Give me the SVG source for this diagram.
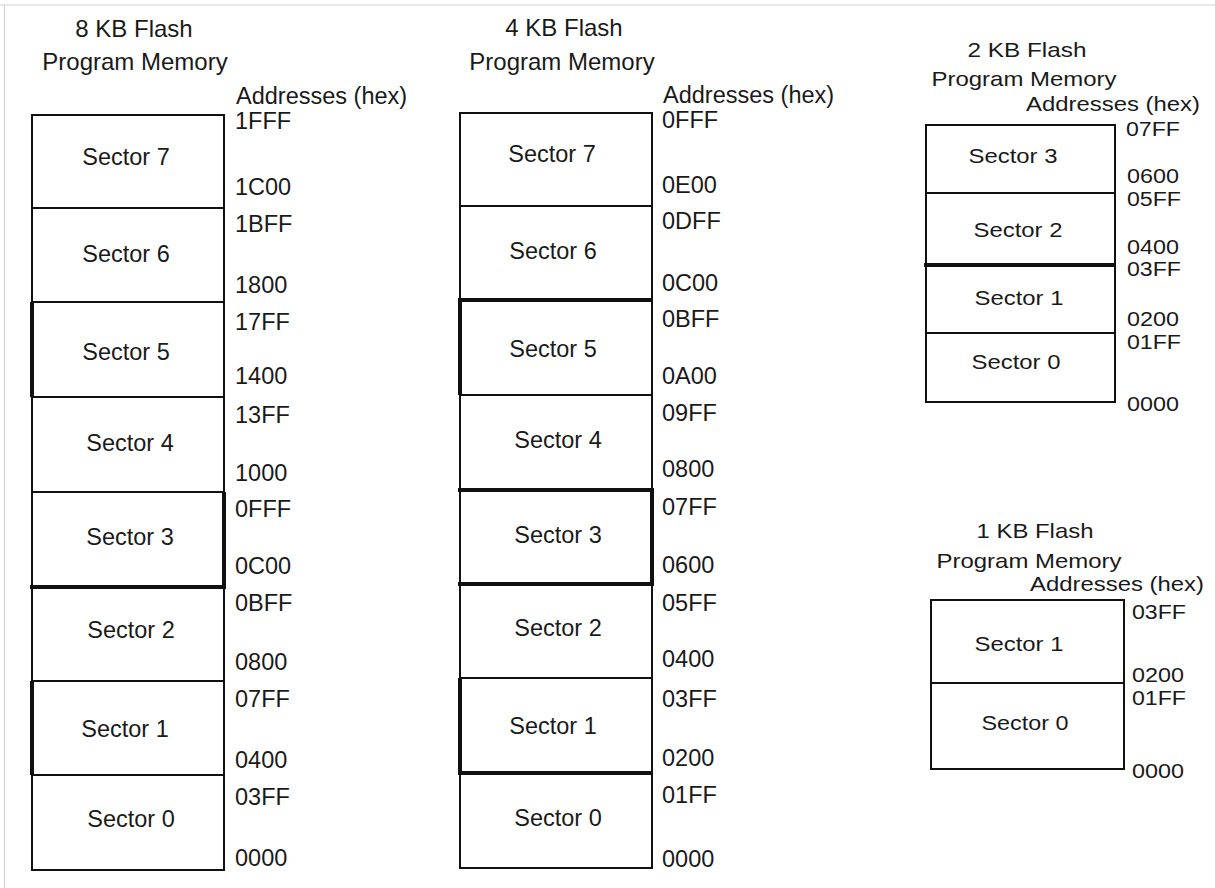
<svg xmlns="http://www.w3.org/2000/svg" width="1215" height="888" viewBox="0 0 1215 888">
<style>
text{font-family:"Liberation Sans",Arial,sans-serif;font-size:23.5px;fill:#1a1a1a}
.t{font-size:24px}
.s{font-size:21px}
.a{font-size:19.5px}
.c{text-anchor:middle}
.box{fill:#fff;stroke:#111;stroke-width:2}
.thick{stroke:#111;stroke-width:4;fill:none}
.frame{stroke:#d0d0d0;stroke-width:1.2;fill:none}
</style>
<rect x="0" y="0" width="1215" height="888" fill="#fff"/>
<path class="frame" d="M0 5H1215M4.5 5V888"/>

<!-- 8 KB -->
<g id="col-8kb">
<text class="t c" x="134" y="37">8 KB Flash</text>
<text class="t c" x="135" y="70">Program Memory</text>
<text x="236" y="104">Addresses (hex)</text>
<g id="a-s7"><rect class="box" x="32" y="115" width="192" height="93"/><text class="c" x="126" y="165">Sector 7</text><text x="235" y="129">1FFF</text><text x="235" y="195">1C00</text></g>
<g id="a-s6"><rect class="box" x="32" y="208" width="192" height="94"/><text class="c" x="126" y="262">Sector 6</text><text x="235" y="232">1BFF</text><text x="235" y="293">1800</text></g>
<g id="a-s5"><rect class="box" x="32" y="302" width="192" height="95"/><text class="c" x="126" y="360">Sector 5</text><text x="235" y="330">17FF</text><text x="235" y="384">1400</text></g>
<g id="a-s4"><rect class="box" x="32" y="397" width="192" height="95"/><text class="c" x="130" y="451">Sector 4</text><text x="235" y="423">13FF</text><text x="235" y="481">1000</text></g>
<g id="a-s3"><rect class="box" x="32" y="492" width="192" height="95"/><text class="c" x="130" y="545">Sector 3</text><text x="235" y="517">0FFF</text><text x="235" y="574">0C00</text></g>
<g id="a-s2"><rect class="box" x="32" y="587" width="192" height="94"/><text class="c" x="131" y="638">Sector 2</text><text x="235" y="611">0BFF</text><text x="235" y="670">0800</text></g>
<g id="a-s1"><rect class="box" x="32" y="681" width="192" height="94"/><text class="c" x="125" y="737">Sector 1</text><text x="235" y="707">07FF</text><text x="235" y="768">0400</text></g>
<g id="a-s0"><rect class="box" x="32" y="775" width="192" height="95"/><text class="c" x="131" y="827">Sector 0</text><text x="235" y="805">03FF</text><text x="235" y="866">0000</text></g>
<path class="thick" d="M32 302V397M224 492V587M30 587H226M32 681V775"/>
</g>

<!-- 4 KB -->
<g id="col-4kb">
<text class="t c" x="564" y="36">4 KB Flash</text>
<text class="t c" x="562" y="70">Program Memory</text>
<text x="663" y="103">Addresses (hex)</text>
<g id="b-s7"><rect class="box" x="460" y="113" width="192" height="93"/><text class="c" x="552" y="162">Sector 7</text><text x="662" y="128">0FFF</text><text x="662" y="193">0E00</text></g>
<g id="b-s6"><rect class="box" x="460" y="206" width="192" height="94"/><text class="c" x="553" y="259">Sector 6</text><text x="662" y="229">0DFF</text><text x="662" y="291">0C00</text></g>
<g id="b-s5"><rect class="box" x="460" y="300" width="192" height="95"/><text class="c" x="553" y="357">Sector 5</text><text x="662" y="327">0BFF</text><text x="662" y="384">0A00</text></g>
<g id="b-s4"><rect class="box" x="460" y="395" width="192" height="95"/><text class="c" x="558" y="448">Sector 4</text><text x="662" y="421">09FF</text><text x="662" y="477">0800</text></g>
<g id="b-s3"><rect class="box" x="460" y="490" width="192" height="94"/><text class="c" x="558" y="543">Sector 3</text><text x="662" y="515">07FF</text><text x="662" y="573">0600</text></g>
<g id="b-s2"><rect class="box" x="460" y="584" width="192" height="94"/><text class="c" x="558" y="636">Sector 2</text><text x="662" y="611">05FF</text><text x="662" y="667">0400</text></g>
<g id="b-s1"><rect class="box" x="460" y="678" width="192" height="95"/><text class="c" x="553" y="734">Sector 1</text><text x="662" y="707">03FF</text><text x="662" y="766">0200</text></g>
<g id="b-s0"><rect class="box" x="460" y="773" width="192" height="95"/><text class="c" x="558" y="826">Sector 0</text><text x="662" y="803">01FF</text><text x="662" y="867">0000</text></g>
<path class="thick" d="M458 300H652M460 300V395M458 490H654M652 490V584M458 584H654M460 678V773M458 773H652"/>
</g>

<!-- 2 KB -->
<g id="col-2kb">
<text class="s c" x="1027" y="57" textLength="119" lengthAdjust="spacingAndGlyphs">2 KB Flash</text>
<text class="s c" x="1024" y="86" textLength="185" lengthAdjust="spacingAndGlyphs">Program Memory</text>
<text class="s" x="1026" y="111" textLength="174" lengthAdjust="spacingAndGlyphs">Addresses (hex)</text>
<g id="c-s3"><rect class="box" x="926" y="125" width="189" height="68"/><text class="s c" x="1013" y="163" textLength="89" lengthAdjust="spacingAndGlyphs">Sector 3</text><text class="a" x="1126" y="136" textLength="54" lengthAdjust="spacingAndGlyphs">07FF</text><text class="a" x="1127" y="183" textLength="52" lengthAdjust="spacingAndGlyphs">0600</text></g>
<g id="c-s2"><rect class="box" x="926" y="193" width="189" height="72"/><text class="s c" x="1018" y="237" textLength="89" lengthAdjust="spacingAndGlyphs">Sector 2</text><text class="a" x="1127" y="206" textLength="54" lengthAdjust="spacingAndGlyphs">05FF</text><text class="a" x="1127" y="254" textLength="52" lengthAdjust="spacingAndGlyphs">0400</text></g>
<g id="c-s1"><rect class="box" x="926" y="265" width="189" height="68"/><text class="s c" x="1019" y="305" textLength="89" lengthAdjust="spacingAndGlyphs">Sector 1</text><text class="a" x="1127" y="276" textLength="54" lengthAdjust="spacingAndGlyphs">03FF</text><text class="a" x="1127" y="326" textLength="52" lengthAdjust="spacingAndGlyphs">0200</text></g>
<g id="c-s0"><rect class="box" x="926" y="333" width="189" height="69"/><text class="s c" x="1016" y="369" textLength="89" lengthAdjust="spacingAndGlyphs">Sector 0</text><text class="a" x="1127" y="349" textLength="54" lengthAdjust="spacingAndGlyphs">01FF</text><text class="a" x="1127" y="411" textLength="52" lengthAdjust="spacingAndGlyphs">0000</text></g>
<path class="thick" d="M924 265H1115"/>
</g>

<!-- 1 KB -->
<g id="col-1kb">
<text class="s c" x="1035" y="538" textLength="117" lengthAdjust="spacingAndGlyphs">1 KB Flash</text>
<text class="s c" x="1029" y="568" textLength="185" lengthAdjust="spacingAndGlyphs">Program Memory</text>
<text class="s" x="1030" y="591" textLength="174" lengthAdjust="spacingAndGlyphs">Addresses (hex)</text>
<g id="d-s1"><rect class="box" x="931" y="600" width="193" height="83"/><text class="s c" x="1019" y="651" textLength="89" lengthAdjust="spacingAndGlyphs">Sector 1</text><text class="a" x="1132" y="619" textLength="54" lengthAdjust="spacingAndGlyphs">03FF</text><text class="a" x="1132" y="682" textLength="52" lengthAdjust="spacingAndGlyphs">0200</text></g>
<g id="d-s0"><rect class="box" x="931" y="683" width="193" height="86"/><text class="s c" x="1025" y="730" textLength="87" lengthAdjust="spacingAndGlyphs">Sector 0</text><text class="a" x="1132" y="705" textLength="54" lengthAdjust="spacingAndGlyphs">01FF</text><text class="a" x="1132" y="778" textLength="52" lengthAdjust="spacingAndGlyphs">0000</text></g>
</g>

<g id="connectors"></g>
</svg>
